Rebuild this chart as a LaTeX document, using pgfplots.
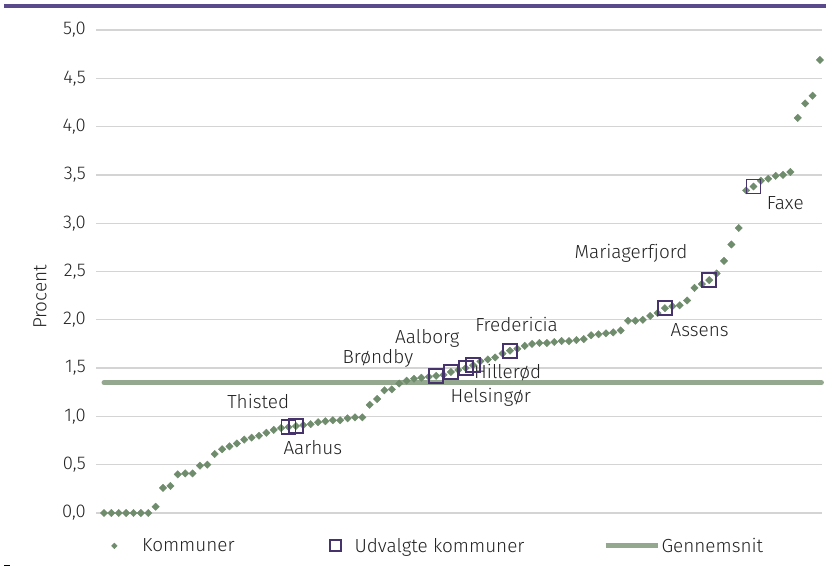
\documentclass[border=0pt]{standalone}
\usepackage{fontspec}
\setmainfont{Fira Sans}[UprightFont={* Light}]
\usepackage{pgfplots}
\usepackage{pgfplotstable}
\pgfplotsset{compat=1.18}
\definecolor{kom}{HTML}{6F8C6C}
\definecolor{udv}{HTML}{46336B}
\definecolor{avg}{HTML}{93A88E}
\definecolor{topbar}{HTML}{5B4A8B}
\definecolor{gridc}{HTML}{D4D4D4}
\definecolor{txt}{HTML}{222222}

\pgfplotsset{
  kom legend/.style={legend image code/.code={\path (0bp,0bp) (52bp,0bp); \draw[##1, mark size=2bp] plot coordinates {(26bp,0bp)};}},
  udv legend/.style={legend image code/.code={\path (0bp,0bp) (34bp,0bp); \draw[##1, mark size=5.5bp] plot coordinates {(17bp,0bp)};}},
  avg legend/.style={legend image code/.code={\draw[##1] (0bp,0bp) -- (52bp,0bp);}},
}

\pgfplotstableread{
i v
0 0
1 0
2 0
3 0
4 0
5 0
6 0
7 0.065
8 0.26
9 0.28
10 0.40
11 0.41
12 0.41
13 0.49
14 0.50
15 0.61
16 0.66
17 0.69
18 0.72
19 0.76
20 0.78
21 0.80
22 0.83
23 0.86
24 0.88
25 0.89
26 0.90
27 0.91
28 0.92
29 0.94
30 0.95
31 0.96
32 0.96
33 0.98
34 0.99
35 0.99
36 1.12
37 1.18
38 1.27
39 1.28
40 1.34
41 1.37
42 1.39
43 1.40
44 1.41
45 1.42
46 1.43
47 1.46
48 1.48
49 1.50
50 1.53
51 1.57
52 1.59
53 1.61
54 1.65
55 1.68
56 1.70
57 1.73
58 1.75
59 1.76
60 1.76
61 1.77
62 1.78
63 1.78
64 1.79
65 1.80
66 1.84
67 1.85
68 1.86
69 1.87
70 1.89
71 1.99
72 1.99
73 2.00
74 2.04
75 2.07
76 2.12
77 2.14
78 2.15
79 2.20
80 2.33
81 2.37
82 2.41
83 2.48
84 2.61
85 2.78
86 2.95
87 3.34
88 3.38
89 3.44
90 3.46
91 3.49
92 3.50
93 3.53
94 4.09
95 4.24
96 4.32
97 4.69
}\kommuner

\pgfplotstableread{
i v
25 0.89
26 0.90
45 1.42
47 1.46
49 1.50
50 1.53
55 1.68
76 2.12
82 2.41
88 3.38
}\udvalgte

\begin{document}
\begin{tikzpicture}
\useasboundingbox (0bp,0bp) rectangle (826bp,569bp);
\fill[topbar] (4bp,561bp) rectangle (826bp,565bp);
\draw[line width=1bp, black] (4bp,3bp) -- (10bp,3bp);
\begin{axis}[
  at={(96bp,56bp)}, anchor=south west,
  scale only axis, width=726bp, height=483bp,
  xmin=-1.084, xmax=97.28, ymin=0, ymax=5,
  clip=false,
  axis line style={draw=none},
  xtick=\empty,
  ytick={0,0.5,...,5},
  ymajorgrids,
  grid style={gridc, line width=1.3bp},
  major tick length=0pt,
  tick style={draw=none},
  /pgf/number format/.cd, fixed, fixed zerofill, precision=1, use comma, assume math mode=true,
  /pgfplots/.cd,
  yticklabel style={font=\fontsize{18.5}{22}\selectfont, text=txt, anchor=east, inner sep=0pt, xshift=-10bp},
  legend style={at={(rel axis cs:-0.011,-0.068)}, anchor=west, draw=none, fill=none, inner sep=0pt,
    font=\fontsize{19}{22}\selectfont, text=txt, legend columns=3,
    nodes={inner sep=1.5bp}},
]
\addplot[avg, line width=5bp, line cap=round, forget plot] coordinates {(0,1.35) (97.2,1.35)};
\addplot[only marks, mark=square*, mark size=2.6bp, mark options={rotate=45, fill=kom, draw=kom}, kom legend]
  table[x=i, y=v] {\kommuner};
\addlegendentry{\makebox[175bp][l]{Kommuner}}
\addplot[only marks, mark=square, mark size=7bp, mark options={draw=udv, line width=1.8bp}, udv legend]
  table[x=i, y=v] {\udvalgte};
\addlegendentry{\makebox[247bp][l]{Udvalgte kommuner}}
\addlegendimage{avg, line width=5bp, avg legend}
\addlegendentry{Gennemsnit}

\begin{scope}[every node/.style={font=\fontsize{19}{22}\selectfont, text=txt}]
\node at (axis cs:20.9,1.15) {Thisted};
\node at (axis cs:28.3,0.68) {Aarhus};
\node at (axis cs:37.1,1.60) {Brøndby};
\node at (axis cs:43.8,1.81) {Aalborg};
\node at (axis cs:55.9,1.95) {Fredericia};
\node at (axis cs:54.7,1.45) {Hillerød};
\node at (axis cs:52.4,1.20) {Helsingør};
\node at (axis cs:71.4,2.69) {Mariagerfjord};
\node at (axis cs:80.7,1.89) {Assens};
\node at (axis cs:92.3,3.21) {Faxe};
\end{scope}
\end{axis}
\node[rotate=90, font=\fontsize{19}{22}\selectfont, text=txt] at (40bp,272bp) {Procent};
\end{tikzpicture}
\end{document}
